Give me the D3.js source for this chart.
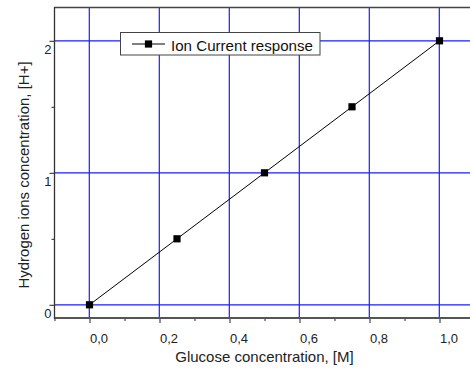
<!DOCTYPE html>
<html><head><meta charset="utf-8">
<script src="https://cdn.jsdelivr.net/npm/d3@7"></script>
<style>
html,body{margin:0;padding:0;background:#fff;}
svg{display:block;font-family:"Liberation Sans",Arial,sans-serif;}
</style></head>
<body><svg id="c" width="470" height="370"></svg>
<script>
const xValues = [0, 0.25, 0.5, 0.75, 1.0];
const yValues = [0, 0.5, 1.0, 1.5, 2.0];
const seriesName = "Ion Current response";
const xMajorTicks = [0, 0.2, 0.4, 0.6, 0.8, 1.0];
const xMinorTicks = [-0.1, 0.1, 0.3, 0.5, 0.7, 0.9, 1.1];
const yMajorTicks = [0, 1, 2];
const yMinorTicks = [0.5, 1.5];
const xTitle = "Glucose concentration, [M]";
const yTitle = "Hydrogen ions concentration, [H+]";

const svg = d3.select("#c");
const L = 54.5, R = 474.5, T = 7, B = 318;
const x = d3.scaleLinear().domain([-0.1, 1.1]).range([L, R]);
const y = d3.scaleLinear().domain([-0.1, 2.256]).range([B, T]);
const fmt = d => d3.format(".1f")(d).replace(".", ",");
const FONT = "Liberation Sans, Arial, sans-serif";
const GRID = "#1c1cff";

// grid
const grid = svg.append("g");
grid.selectAll("line.v").data(xMajorTicks).join("line")
  .attr("x1", d => x(d) - 0.2).attr("x2", d => x(d) - 0.2)
  .attr("y1", T).attr("y2", B)
  .attr("stroke", GRID).attr("stroke-width", 1.2);
grid.selectAll("line.h").data(yMajorTicks).join("line")
  .attr("y1", d => y(d)).attr("y2", d => y(d))
  .attr("x1", L).attr("x2", 470)
  .attr("stroke", GRID).attr("stroke-width", 1.2);

// top border
svg.append("line").attr("x1", L).attr("x2", 470).attr("y1", 7.5).attr("y2", 7.5)
  .attr("stroke", "#444").attr("stroke-width", 1.5);

// x axis
const xAxisMajor = d3.axisBottom(x).tickValues(xMajorTicks).tickSize(5).tickSizeOuter(0).tickPadding(11).tickFormat(fmt);
const gx = svg.append("g").attr("transform", `translate(0,${B})`).call(xAxisMajor);
gx.select(".domain").remove();
gx.selectAll("text").attr("font-size", 13).attr("fill", "#222").attr("font-family", FONT)
  .attr("transform", "translate(9,0)");
gx.selectAll("line").attr("stroke", "#222");
const xAxisMinor = d3.axisBottom(x).tickValues(xMinorTicks).tickSize(3).tickSizeOuter(0).tickFormat("");
const gx2 = svg.append("g").attr("transform", `translate(0,${B})`).call(xAxisMinor);
gx2.select(".domain").remove();
gx2.selectAll("line").attr("stroke", "#222");
svg.append("line").attr("x1", L).attr("x2", 470).attr("y1", B).attr("y2", B)
  .attr("stroke", "#555").attr("stroke-width", 2);

// y axis
const yAxisMajor = d3.axisLeft(y).tickValues(yMajorTicks).tickSize(5).tickSizeOuter(0).tickPadding(4).tickFormat(d3.format("d"));
const gy = svg.append("g").attr("transform", `translate(${L},0)`).call(yAxisMajor);
gy.select(".domain").remove();
gy.selectAll("line").attr("stroke", "#222");
gy.selectAll("text").attr("font-size", 13).attr("fill", "#222").attr("dy", "0.35em")
  .attr("transform", "translate(6,8)").attr("font-family", FONT);
const yAxisMinor = d3.axisLeft(y).tickValues(yMinorTicks).tickSize(3).tickSizeOuter(0).tickFormat("");
const gy2 = svg.append("g").attr("transform", `translate(${L},0)`).call(yAxisMinor);
gy2.select(".domain").remove();
gy2.selectAll("line").attr("stroke", "#222");
svg.append("line").attr("x1", L).attr("x2", L).attr("y1", T).attr("y2", B + 1)
  .attr("stroke", "#333").attr("stroke-width", 1.3);

// series
const pts = xValues.map((v, i) => [v, yValues[i]]);
svg.append("path").datum(pts)
  .attr("d", d3.line().x(d => x(d[0])).y(d => y(d[1])))
  .attr("fill", "none").attr("stroke", "#000").attr("stroke-width", 1);
const ms = 7.2;
svg.selectAll("rect.m").data(pts).join("rect")
  .attr("x", d => x(d[0]) - ms / 2).attr("y", d => y(d[1]) - ms / 2)
  .attr("width", ms).attr("height", ms).attr("fill", "#000");

// legend
const lg = svg.append("g");
lg.append("rect").attr("x", 120.5).attr("y", 32.5).attr("width", 199.5).attr("height", 22.5)
  .attr("fill", "#fff").attr("stroke", "#444").attr("stroke-width", 1);
lg.append("line").attr("x1", 132).attr("x2", 165).attr("y1", 44).attr("y2", 44)
  .attr("stroke", "#000").attr("stroke-width", 1);
lg.append("rect").attr("x", 148.5 - ms / 2).attr("y", 44 - ms / 2).attr("width", ms).attr("height", ms).attr("fill", "#000");
lg.append("text").attr("x", 171).attr("y", 50.5).attr("font-size", 15).attr("fill", "#111")
  .attr("textLength", 142).attr("lengthAdjust", "spacingAndGlyphs").text(seriesName);

// titles
svg.append("text").attr("x", 264.5).attr("y", 361.5).attr("text-anchor", "middle")
  .attr("font-size", 15).attr("fill", "#222").text(xTitle);
svg.append("text").attr("transform", "translate(29,175) rotate(-90)").attr("text-anchor", "middle")
  .attr("font-size", 15).attr("fill", "#222").text(yTitle);
</script></body></html>
